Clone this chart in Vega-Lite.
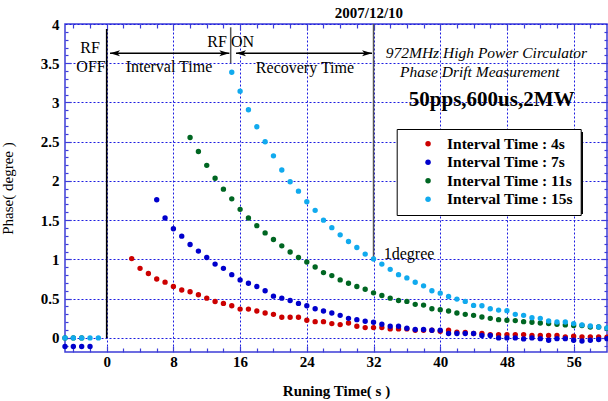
{
  "$schema": "https://vega.github.io/schema/vega-lite/v6.json",
  "width": 542,
  "height": 328,
  "autosize": "none",
  "padding": {"left": 65, "top": 24, "right": 1, "bottom": 49},
  "background": "white",
  "config": {
    "view": {"stroke": "#3c3cd8", "strokeWidth": 1.5},
    "font": "Liberation Serif",
    "axis": {"domain": false, "tickColor": "#3c3cd8", "tickWidth": 1.2, "labelColor": "black", "titleColor": "black", "labelOverlap": false, "labelFlush": false, "labelBound": false}
  },
  "datasets": {
    "pts": [
      {"t": 3, "p": 1.01, "s": "Interval Time : 4s"}, {"t": 4, "p": 0.886, "s": "Interval Time : 4s"}, {"t": 5, "p": 0.82, "s": "Interval Time : 4s"}, {"t": 6, "p": 0.75, "s": "Interval Time : 4s"}, {"t": 7, "p": 0.71, "s": "Interval Time : 4s"}, {"t": 8, "p": 0.654, "s": "Interval Time : 4s"}, {"t": 9, "p": 0.61, "s": "Interval Time : 4s"}, {"t": 10, "p": 0.587, "s": "Interval Time : 4s"}, {"t": 11, "p": 0.549, "s": "Interval Time : 4s"}, {"t": 12, "p": 0.506, "s": "Interval Time : 4s"}, {"t": 13, "p": 0.464, "s": "Interval Time : 4s"}, {"t": 14, "p": 0.439, "s": "Interval Time : 4s"}, {"t": 15, "p": 0.41, "s": "Interval Time : 4s"}, {"t": 16, "p": 0.367, "s": "Interval Time : 4s"}, {"t": 17, "p": 0.367, "s": "Interval Time : 4s"}, {"t": 18, "p": 0.342, "s": "Interval Time : 4s"}, {"t": 19, "p": 0.317, "s": "Interval Time : 4s"}, {"t": 20, "p": 0.3, "s": "Interval Time : 4s"}, {"t": 21, "p": 0.262, "s": "Interval Time : 4s"}, {"t": 22, "p": 0.262, "s": "Interval Time : 4s"}, {"t": 23, "p": 0.262, "s": "Interval Time : 4s"}, {"t": 24, "p": 0.224, "s": "Interval Time : 4s"}, {"t": 25, "p": 0.207, "s": "Interval Time : 4s"}, {"t": 26, "p": 0.207, "s": "Interval Time : 4s"}, {"t": 27, "p": 0.182, "s": "Interval Time : 4s"}, {"t": 28, "p": 0.169, "s": "Interval Time : 4s"}, {"t": 29, "p": 0.19, "s": "Interval Time : 4s"}, {"t": 30, "p": 0.148, "s": "Interval Time : 4s"}, {"t": 31, "p": 0.131, "s": "Interval Time : 4s"}, {"t": 32, "p": 0.131, "s": "Interval Time : 4s"}, {"t": 33, "p": 0.131, "s": "Interval Time : 4s"}, {"t": 34, "p": 0.114, "s": "Interval Time : 4s"}, {"t": 35, "p": 0.114, "s": "Interval Time : 4s"}, {"t": 36, "p": 0.114, "s": "Interval Time : 4s"}, {"t": 37, "p": 0.097, "s": "Interval Time : 4s"}, {"t": 38, "p": 0.097, "s": "Interval Time : 4s"}, {"t": 39, "p": 0.097, "s": "Interval Time : 4s"}, {"t": 40, "p": 0.085, "s": "Interval Time : 4s"}, {"t": 41, "p": 0.097, "s": "Interval Time : 4s"}, {"t": 42, "p": 0.072, "s": "Interval Time : 4s"}, {"t": 43, "p": 0.07, "s": "Interval Time : 4s"}, {"t": 44, "p": 0.055, "s": "Interval Time : 4s"}, {"t": 45, "p": 0.055, "s": "Interval Time : 4s"}, {"t": 46, "p": 0.042, "s": "Interval Time : 4s"}, {"t": 47, "p": 0.042, "s": "Interval Time : 4s"}, {"t": 48, "p": 0.042, "s": "Interval Time : 4s"}, {"t": 49, "p": 0.042, "s": "Interval Time : 4s"}, {"t": 50, "p": 0.042, "s": "Interval Time : 4s"}, {"t": 51, "p": 0.03, "s": "Interval Time : 4s"}, {"t": 52, "p": 0.03, "s": "Interval Time : 4s"}, {"t": 53, "p": 0.03, "s": "Interval Time : 4s"}, {"t": 54, "p": 0.03, "s": "Interval Time : 4s"}, {"t": 55, "p": 0.013, "s": "Interval Time : 4s"}, {"t": 56, "p": 0.02, "s": "Interval Time : 4s"}, {"t": 57, "p": 0.013, "s": "Interval Time : 4s"}, {"t": 58, "p": 0.013, "s": "Interval Time : 4s"}, {"t": 59, "p": 0.013, "s": "Interval Time : 4s"}, {"t": 60, "p": 0.01, "s": "Interval Time : 4s"},
      {"t": -5, "p": -0.11, "s": "Interval Time : 7s"}, {"t": -4, "p": -0.11, "s": "Interval Time : 7s"}, {"t": -3, "p": -0.11, "s": "Interval Time : 7s"}, {"t": -2, "p": -0.11, "s": "Interval Time : 7s"},
      {"t": 6, "p": 1.76, "s": "Interval Time : 7s"}, {"t": 7, "p": 1.528, "s": "Interval Time : 7s"}, {"t": 8, "p": 1.39, "s": "Interval Time : 7s"}, {"t": 9, "p": 1.296, "s": "Interval Time : 7s"}, {"t": 10, "p": 1.19, "s": "Interval Time : 7s"}, {"t": 11, "p": 1.106, "s": "Interval Time : 7s"}, {"t": 12, "p": 1.025, "s": "Interval Time : 7s"}, {"t": 13, "p": 0.94, "s": "Interval Time : 7s"}, {"t": 14, "p": 0.886, "s": "Interval Time : 7s"}, {"t": 15, "p": 0.806, "s": "Interval Time : 7s"}, {"t": 16, "p": 0.739, "s": "Interval Time : 7s"}, {"t": 17, "p": 0.696, "s": "Interval Time : 7s"}, {"t": 18, "p": 0.654, "s": "Interval Time : 7s"}, {"t": 19, "p": 0.6, "s": "Interval Time : 7s"}, {"t": 20, "p": 0.532, "s": "Interval Time : 7s"}, {"t": 21, "p": 0.506, "s": "Interval Time : 7s"}, {"t": 22, "p": 0.477, "s": "Interval Time : 7s"}, {"t": 23, "p": 0.439, "s": "Interval Time : 7s"}, {"t": 24, "p": 0.41, "s": "Interval Time : 7s"}, {"t": 25, "p": 0.372, "s": "Interval Time : 7s"}, {"t": 26, "p": 0.342, "s": "Interval Time : 7s"}, {"t": 27, "p": 0.317, "s": "Interval Time : 7s"}, {"t": 28, "p": 0.287, "s": "Interval Time : 7s"}, {"t": 29, "p": 0.249, "s": "Interval Time : 7s"}, {"t": 30, "p": 0.232, "s": "Interval Time : 7s"}, {"t": 31, "p": 0.211, "s": "Interval Time : 7s"}, {"t": 32, "p": 0.199, "s": "Interval Time : 7s"}, {"t": 33, "p": 0.173, "s": "Interval Time : 7s"}, {"t": 34, "p": 0.148, "s": "Interval Time : 7s"}, {"t": 35, "p": 0.148, "s": "Interval Time : 7s"}, {"t": 36, "p": 0.123, "s": "Interval Time : 7s"}, {"t": 37, "p": 0.106, "s": "Interval Time : 7s"}, {"t": 38, "p": 0.106, "s": "Interval Time : 7s"}, {"t": 39, "p": 0.097, "s": "Interval Time : 7s"}, {"t": 40, "p": 0.097, "s": "Interval Time : 7s"}, {"t": 41, "p": 0.055, "s": "Interval Time : 7s"}, {"t": 42, "p": 0.055, "s": "Interval Time : 7s"}, {"t": 43, "p": 0.055, "s": "Interval Time : 7s"}, {"t": 44, "p": 0.055, "s": "Interval Time : 7s"}, {"t": 45, "p": 0.03, "s": "Interval Time : 7s"}, {"t": 46, "p": 0.03, "s": "Interval Time : 7s"}, {"t": 47, "p": 0.0, "s": "Interval Time : 7s"}, {"t": 48, "p": 0.0, "s": "Interval Time : 7s"}, {"t": 49, "p": 0.0, "s": "Interval Time : 7s"}, {"t": 50, "p": -0.013, "s": "Interval Time : 7s"}, {"t": 51, "p": 0.0, "s": "Interval Time : 7s"}, {"t": 52, "p": -0.01, "s": "Interval Time : 7s"}, {"t": 53, "p": -0.03, "s": "Interval Time : 7s"}, {"t": 54, "p": -0.01, "s": "Interval Time : 7s"}, {"t": 55, "p": -0.01, "s": "Interval Time : 7s"}, {"t": 56, "p": -0.03, "s": "Interval Time : 7s"}, {"t": 57, "p": -0.04, "s": "Interval Time : 7s"}, {"t": 58, "p": -0.03, "s": "Interval Time : 7s"}, {"t": 59, "p": -0.02, "s": "Interval Time : 7s"}, {"t": 60, "p": -0.01, "s": "Interval Time : 7s"},
      {"t": -5, "p": 0.0, "s": "Interval Time : 11s"}, {"t": -4, "p": 0.0, "s": "Interval Time : 11s"}, {"t": -3, "p": 0.0, "s": "Interval Time : 11s"},
      {"t": 10, "p": 2.553, "s": "Interval Time : 11s"}, {"t": 11, "p": 2.376, "s": "Interval Time : 11s"}, {"t": 12, "p": 2.199, "s": "Interval Time : 11s"}, {"t": 13, "p": 2.034, "s": "Interval Time : 11s"}, {"t": 14, "p": 1.895, "s": "Interval Time : 11s"}, {"t": 15, "p": 1.772, "s": "Interval Time : 11s"}, {"t": 16, "p": 1.638, "s": "Interval Time : 11s"}, {"t": 17, "p": 1.528, "s": "Interval Time : 11s"}, {"t": 18, "p": 1.43, "s": "Interval Time : 11s"}, {"t": 19, "p": 1.338, "s": "Interval Time : 11s"}, {"t": 20, "p": 1.253, "s": "Interval Time : 11s"}, {"t": 21, "p": 1.173, "s": "Interval Time : 11s"}, {"t": 22, "p": 1.094, "s": "Interval Time : 11s"}, {"t": 23, "p": 1.025, "s": "Interval Time : 11s"}, {"t": 24, "p": 0.967, "s": "Interval Time : 11s"}, {"t": 25, "p": 0.903, "s": "Interval Time : 11s"}, {"t": 26, "p": 0.832, "s": "Interval Time : 11s"}, {"t": 27, "p": 0.794, "s": "Interval Time : 11s"}, {"t": 28, "p": 0.739, "s": "Interval Time : 11s"}, {"t": 29, "p": 0.696, "s": "Interval Time : 11s"}, {"t": 30, "p": 0.654, "s": "Interval Time : 11s"}, {"t": 31, "p": 0.62, "s": "Interval Time : 11s"}, {"t": 32, "p": 0.574, "s": "Interval Time : 11s"}, {"t": 33, "p": 0.54, "s": "Interval Time : 11s"}, {"t": 34, "p": 0.506, "s": "Interval Time : 11s"}, {"t": 35, "p": 0.477, "s": "Interval Time : 11s"}, {"t": 36, "p": 0.465, "s": "Interval Time : 11s"}, {"t": 37, "p": 0.427, "s": "Interval Time : 11s"}, {"t": 38, "p": 0.418, "s": "Interval Time : 11s"}, {"t": 39, "p": 0.372, "s": "Interval Time : 11s"}, {"t": 40, "p": 0.359, "s": "Interval Time : 11s"}, {"t": 41, "p": 0.342, "s": "Interval Time : 11s"}, {"t": 42, "p": 0.317, "s": "Interval Time : 11s"}, {"t": 43, "p": 0.3, "s": "Interval Time : 11s"}, {"t": 44, "p": 0.287, "s": "Interval Time : 11s"}, {"t": 45, "p": 0.266, "s": "Interval Time : 11s"}, {"t": 46, "p": 0.249, "s": "Interval Time : 11s"}, {"t": 47, "p": 0.232, "s": "Interval Time : 11s"}, {"t": 48, "p": 0.224, "s": "Interval Time : 11s"}, {"t": 49, "p": 0.22, "s": "Interval Time : 11s"}, {"t": 50, "p": 0.207, "s": "Interval Time : 11s"}, {"t": 51, "p": 0.199, "s": "Interval Time : 11s"}, {"t": 52, "p": 0.19, "s": "Interval Time : 11s"}, {"t": 53, "p": 0.182, "s": "Interval Time : 11s"}, {"t": 54, "p": 0.173, "s": "Interval Time : 11s"}, {"t": 55, "p": 0.165, "s": "Interval Time : 11s"}, {"t": 56, "p": 0.157, "s": "Interval Time : 11s"}, {"t": 57, "p": 0.157, "s": "Interval Time : 11s"}, {"t": 58, "p": 0.139, "s": "Interval Time : 11s"}, {"t": 59, "p": 0.139, "s": "Interval Time : 11s"}, {"t": 60, "p": 0.123, "s": "Interval Time : 11s"},
      {"t": -5, "p": 0.0, "s": "Interval Time : 15s"}, {"t": -4, "p": 0.0, "s": "Interval Time : 15s"}, {"t": -3, "p": 0.0, "s": "Interval Time : 15s"}, {"t": -2, "p": 0.0, "s": "Interval Time : 15s"}, {"t": -1, "p": 0.0, "s": "Interval Time : 15s"},
      {"t": 15, "p": 3.385, "s": "Interval Time : 15s"}, {"t": 16, "p": 3.144, "s": "Interval Time : 15s"}, {"t": 17, "p": 2.908, "s": "Interval Time : 15s"}, {"t": 18, "p": 2.69, "s": "Interval Time : 15s"}, {"t": 19, "p": 2.5, "s": "Interval Time : 15s"}, {"t": 20, "p": 2.32, "s": "Interval Time : 15s"}, {"t": 21, "p": 2.14, "s": "Interval Time : 15s"}, {"t": 22, "p": 1.99, "s": "Interval Time : 15s"}, {"t": 23, "p": 1.87, "s": "Interval Time : 15s"}, {"t": 24, "p": 1.735, "s": "Interval Time : 15s"}, {"t": 25, "p": 1.625, "s": "Interval Time : 15s"}, {"t": 26, "p": 1.5, "s": "Interval Time : 15s"}, {"t": 27, "p": 1.405, "s": "Interval Time : 15s"}, {"t": 28, "p": 1.313, "s": "Interval Time : 15s"}, {"t": 29, "p": 1.228, "s": "Interval Time : 15s"}, {"t": 30, "p": 1.152, "s": "Interval Time : 15s"}, {"t": 31, "p": 1.068, "s": "Interval Time : 15s"}, {"t": 32, "p": 1.005, "s": "Interval Time : 15s"}, {"t": 33, "p": 0.94, "s": "Interval Time : 15s"}, {"t": 34, "p": 0.873, "s": "Interval Time : 15s"}, {"t": 35, "p": 0.806, "s": "Interval Time : 15s"}, {"t": 36, "p": 0.764, "s": "Interval Time : 15s"}, {"t": 37, "p": 0.709, "s": "Interval Time : 15s"}, {"t": 38, "p": 0.663, "s": "Interval Time : 15s"}, {"t": 39, "p": 0.6, "s": "Interval Time : 15s"}, {"t": 40, "p": 0.57, "s": "Interval Time : 15s"}, {"t": 41, "p": 0.528, "s": "Interval Time : 15s"}, {"t": 42, "p": 0.494, "s": "Interval Time : 15s"}, {"t": 43, "p": 0.465, "s": "Interval Time : 15s"}, {"t": 44, "p": 0.414, "s": "Interval Time : 15s"}, {"t": 45, "p": 0.41, "s": "Interval Time : 15s"}, {"t": 46, "p": 0.372, "s": "Interval Time : 15s"}, {"t": 47, "p": 0.354, "s": "Interval Time : 15s"}, {"t": 48, "p": 0.347, "s": "Interval Time : 15s"}, {"t": 49, "p": 0.3, "s": "Interval Time : 15s"}, {"t": 50, "p": 0.287, "s": "Interval Time : 15s"}, {"t": 51, "p": 0.258, "s": "Interval Time : 15s"}, {"t": 52, "p": 0.249, "s": "Interval Time : 15s"}, {"t": 53, "p": 0.215, "s": "Interval Time : 15s"}, {"t": 54, "p": 0.203, "s": "Interval Time : 15s"}, {"t": 55, "p": 0.203, "s": "Interval Time : 15s"}, {"t": 56, "p": 0.182, "s": "Interval Time : 15s"}, {"t": 57, "p": 0.165, "s": "Interval Time : 15s"}, {"t": 58, "p": 0.152, "s": "Interval Time : 15s"}, {"t": 59, "p": 0.139, "s": "Interval Time : 15s"}, {"t": 60, "p": 0.127, "s": "Interval Time : 15s"}
    ],
    "grayRules": [{"x": 14.87, "y": 3.5, "y2": 3.958}, {"x": 32, "y": 1.014, "y2": 4}],
    "blackRules": [{"x": 0, "y": 0, "y2": 3.936}],
    "arrows": [{"x": 0.4, "x2": 14.71, "y": 3.627}, {"x": 15.51, "x2": 31.82, "y": 3.627}],
    "heads": [{"x": 0.4, "y": 3.627, "d": "L"}, {"x": 14.71, "y": 3.627, "d": "R"}, {"x": 15.51, "y": 3.627, "d": "L"}, {"x": 31.82, "y": 3.627, "d": "R"}],
    "shadow": [{"x": 35.14, "x2": 57.12, "y": 2.624, "y2": 1.579}],
    "titleText": [{"x": 31.45, "y": 4.073, "text": "2007/12/10"}],
    "plainText": [
      {"x": -2.0, "y": 3.634, "text": "RF"},
      {"x": -1.88, "y": 3.392, "text": "OFF"},
      {"x": 7.47, "y": 3.392, "text": "Interval Time"},
      {"x": 14.87, "y": 3.703, "text": "RF ON"},
      {"x": 23.78, "y": 3.379, "text": "Recovery Time"},
      {"x": 36.26, "y": 1.005, "text": "1degree"}
    ],
    "italicText": [
      {"x": 45.54, "y": 3.571, "text": "972MHz High Power Circulator"},
      {"x": 44.74, "y": 3.328, "text": "Phase Drift Measurement"}
    ],
    "boldText": [{"x": 46.17, "y": 2.955, "text": "50pps,600us,2MW"}]
  },
  "layer": [
    {
      "data": {"name": "shadow"},
      "mark": {"type": "rect", "color": "black"},
      "encoding": {
        "x": {"field": "x", "type": "quantitative", "scale": {"domain": [-5, 60], "nice": false, "zero": false}, "axis": null},
        "x2": {"field": "x2"},
        "y": {"field": "y", "type": "quantitative", "scale": {"domain": [-0.18, 4], "nice": false, "zero": false}, "axis": null},
        "y2": {"field": "y2"}
      }
    },
    {
      "data": {"name": "blackRules"},
      "mark": {"type": "rule", "color": "black", "strokeWidth": 1.6},
      "encoding": {
        "x": {"field": "x", "type": "quantitative", "axis": {
          "orient": "bottom", "title": null, "labels": false, "grid": false,
          "values": [-4, -2, 0, 2, 4, 6, 8, 10, 12, 14, 16, 18, 20, 22, 24, 26, 28, 30, 32, 34, 36, 38, 40, 42, 44, 46, 48, 50, 52, 54, 56, 58],
          "tickSize": {"condition": {"test": "datum.value % 8 === 0", "value": -6}, "value": -4}
        }},
        "y": {"field": "y", "type": "quantitative", "axis": {
          "orient": "left", "title": null, "labels": false, "grid": false,
          "values": [-0.1, 0, 0.1, 0.2, 0.3, 0.4, 0.5, 0.6, 0.7, 0.8, 0.9, 1, 1.1, 1.2, 1.3, 1.4, 1.5, 1.6, 1.7, 1.8, 1.9, 2, 2.1, 2.2, 2.3, 2.4, 2.5, 2.6, 2.7, 2.8, 2.9, 3, 3.1, 3.2, 3.3, 3.4, 3.5, 3.6, 3.7, 3.8, 3.9],
          "tickSize": {"condition": {"test": "abs(datum.value*2 - round(datum.value*2)) < 0.000001", "value": -6}, "value": -3}
        }},
        "y2": {"field": "y2"}
      }
    },
    {
      "data": {"name": "grayRules"},
      "mark": {"type": "rule", "color": "#555555", "strokeWidth": 1.5},
      "encoding": {
        "x": {"field": "x", "type": "quantitative", "axis": {
          "orient": "top", "title": null, "labels": false, "grid": false,
          "values": [-4, -2, 0, 2, 4, 6, 8, 10, 12, 14, 16, 18, 20, 22, 24, 26, 28, 30, 32, 34, 36, 38, 40, 42, 44, 46, 48, 50, 52, 54, 56, 58],
          "tickSize": {"condition": {"test": "datum.value % 8 === 0", "value": -6}, "value": -4}
        }},
        "y": {"field": "y", "type": "quantitative", "axis": {
          "orient": "right", "title": null, "labels": false, "grid": false,
          "values": [-0.1, 0, 0.1, 0.2, 0.3, 0.4, 0.5, 0.6, 0.7, 0.8, 0.9, 1, 1.1, 1.2, 1.3, 1.4, 1.5, 1.6, 1.7, 1.8, 1.9, 2, 2.1, 2.2, 2.3, 2.4, 2.5, 2.6, 2.7, 2.8, 2.9, 3, 3.1, 3.2, 3.3, 3.4, 3.5, 3.6, 3.7, 3.8, 3.9],
          "tickSize": {"condition": {"test": "abs(datum.value*2 - round(datum.value*2)) < 0.000001", "value": -6}, "value": -3}
        }},
        "y2": {"field": "y2"}
      }
    },
    {
      "data": {"name": "arrows"},
      "mark": {"type": "rule", "color": "black", "strokeWidth": 1.3},
      "encoding": {
        "x": {"field": "x", "type": "quantitative", "axis": null},
        "x2": {"field": "x2"},
        "y": {"field": "y", "type": "quantitative", "axis": null}
      }
    },
    {
      "data": {"name": "heads"},
      "mark": {"type": "point", "filled": true, "color": "black", "size": 400, "opacity": 1},
      "encoding": {
        "x": {"field": "x", "type": "quantitative", "axis": null},
        "y": {"field": "y", "type": "quantitative", "axis": null},
        "shape": {"field": "d", "type": "nominal", "legend": null, "scale": {"domain": ["L", "R"], "range": ["M0,0L1,-0.3L0.75,0L1,0.3Z", "M0,0L-1,-0.3L-0.75,0L-1,0.3Z"]}}
      }
    },
    {
      "data": {"name": "titleText"},
      "mark": {"type": "text", "font": "Liberation Serif", "fontSize": 15, "fontWeight": "bold", "color": "black", "align": "center", "baseline": "alphabetic"},
      "encoding": {
        "x": {"field": "x", "type": "quantitative", "axis": null},
        "y": {"field": "y", "type": "quantitative", "axis": null},
        "text": {"field": "text"}
      }
    },
    {
      "data": {"name": "plainText"},
      "mark": {"type": "text", "font": "Liberation Serif", "fontSize": 16, "color": "black", "align": "center", "baseline": "alphabetic"},
      "encoding": {
        "x": {"field": "x", "type": "quantitative", "axis": null},
        "y": {"field": "y", "type": "quantitative", "axis": null},
        "text": {"field": "text"}
      }
    },
    {
      "data": {"name": "italicText"},
      "mark": {"type": "text", "font": "Liberation Serif", "fontSize": 15.5, "fontStyle": "italic", "color": "black", "align": "center", "baseline": "alphabetic"},
      "encoding": {
        "x": {"field": "x", "type": "quantitative", "axis": null},
        "y": {"field": "y", "type": "quantitative", "axis": null},
        "text": {"field": "text"}
      }
    },
    {
      "data": {"name": "boldText"},
      "mark": {"type": "text", "font": "Liberation Serif", "fontSize": 21, "fontWeight": "bold", "color": "black", "align": "center", "baseline": "alphabetic"},
      "encoding": {
        "x": {"field": "x", "type": "quantitative", "axis": null},
        "y": {"field": "y", "type": "quantitative", "axis": null},
        "text": {"field": "text"}
      }
    },
    {
      "data": {"name": "pts"},
      "mark": {"type": "point", "filled": true, "size": 29, "opacity": 1},
      "encoding": {
        "x": {"field": "t", "type": "quantitative", "axis": {
          "orient": "bottom", "title": "Runing Time( s )", "titleFont": "Liberation Serif", "titleFontSize": 15, "titleFontWeight": "bold", "titlePadding": 14,
          "labelFont": "Liberation Serif", "labelFontSize": 15, "labelFontWeight": "bold", "labelPadding": 2,
          "ticks": false,
          "values": [0, 8, 16, 24, 32, 40, 48, 56],
          "grid": true, "gridColor": "#1c1ce0", "gridDash": [2, 2], "gridWidth": 1
        }},
        "y": {"field": "p", "type": "quantitative", "axis": {
          "orient": "left", "title": "Phase( degree )", "titleFont": "Liberation Serif", "titleFontSize": 15, "titleFontWeight": "normal", "titlePadding": 25,
          "labelFont": "Liberation Serif", "labelFontSize": 15, "labelFontWeight": "bold", "labelPadding": 6, "labelAlign": "right", "labelBaseline": "middle",
          "ticks": false,
          "values": [0, 0.5, 1, 1.5, 2, 2.5, 3, 3.5, 4],
          "labelExpr": "format(datum.value, '~g')",
          "grid": true, "gridColor": "#1c1ce0", "gridDash": [2, 2], "gridWidth": 1
        }},
        "color": {"field": "s", "type": "nominal",
          "scale": {"domain": ["Interval Time : 4s", "Interval Time : 7s", "Interval Time : 11s", "Interval Time : 15s"], "range": ["#cc0000", "#0000cc", "#006622", "#11aaee"]},
          "legend": {
            "orient": "none", "legendX": 331.7, "legendY": 105, "title": null,
            "strokeColor": "black", "fillColor": "white", "padding": 7, "rowPadding": 1.5,
            "symbolType": "circle", "symbolSize": 30, "symbolOffset": 16.6, "labelOffset": 11.2,
            "labelFont": "Liberation Serif", "labelFontSize": 15.5, "labelFontWeight": "bold",
            "encode": {
              "legend": {"update": {"strokeWidth": {"value": 1.5}}},
              "labels": {"update": {"fill": {"scale": "color", "field": "value"}}}
            }
          }
        }
      }
    }
  ],
  "resolve": {"axis": {"x": "independent", "y": "independent"}}
}
